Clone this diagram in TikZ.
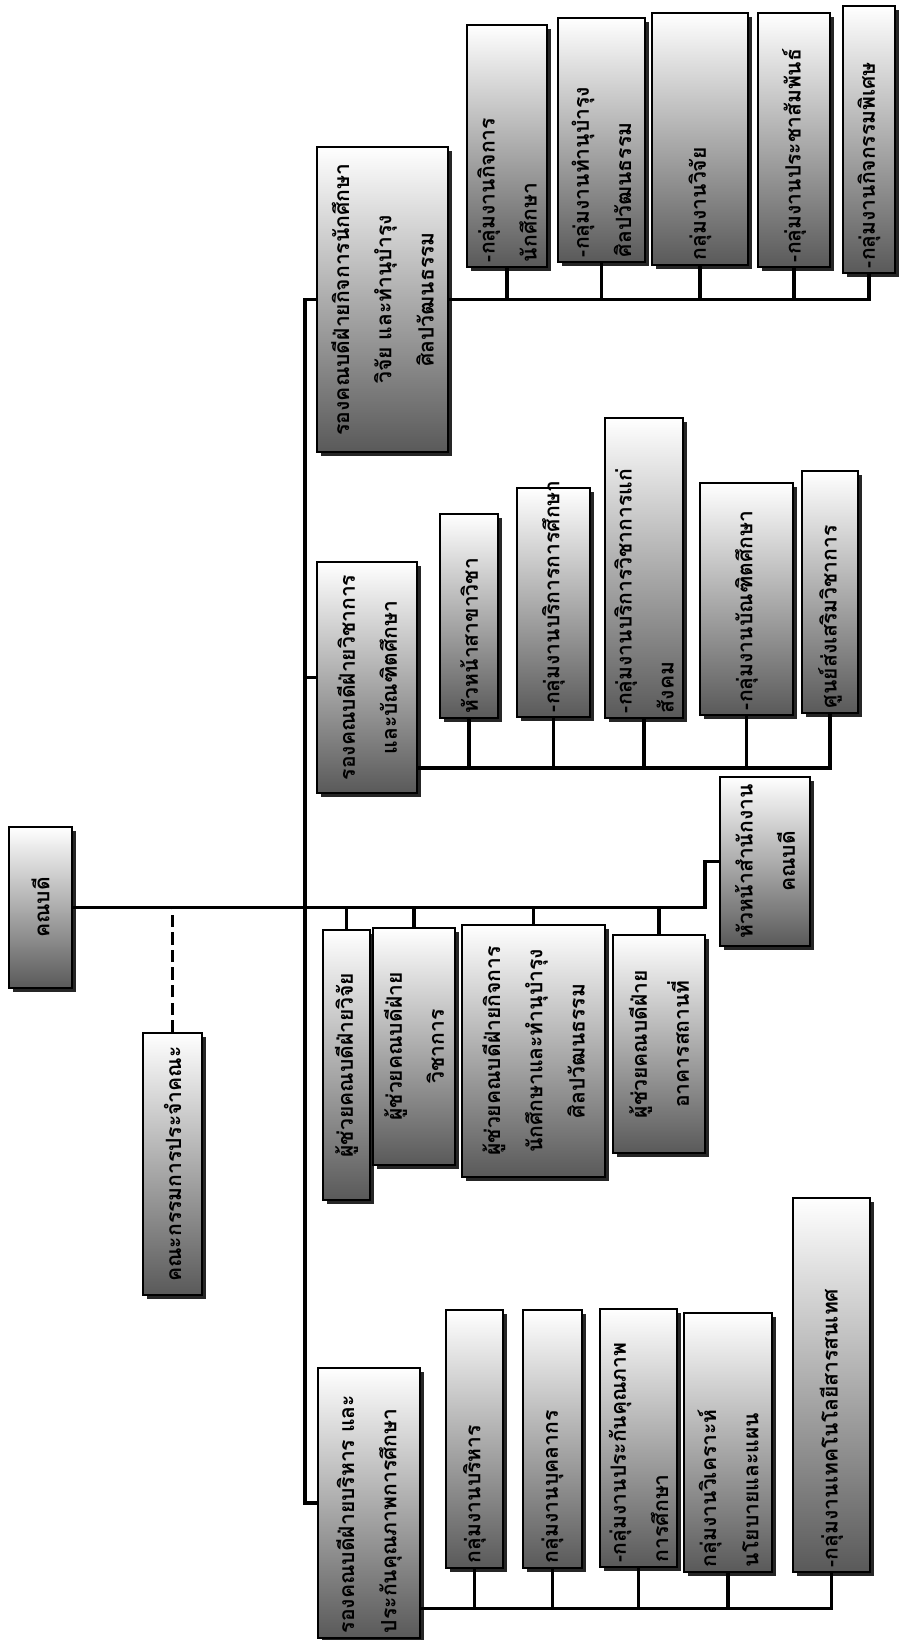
\documentclass[tikz,border=0pt]{standalone}
\usepackage{fontspec}
\newfontfamily\thaifont[Script=Thai]{Loma}
\usetikzlibrary{calc,shadows}
\exhyphenpenalty=10000

\begin{document}
\begin{tikzpicture}[x=0.02cm,y=-0.02cm,
  orgbox/.style 2 args={draw=black,line width=0.7pt,rotate=90,
    top color=white,bottom color=black!65,
    drop shadow={shadow xshift=2pt,shadow yshift=-2pt,fill=black!85,opacity=1},
    minimum width=#1*0.02cm,minimum height=#2*0.02cm,inner sep=1.5pt,
    font=\thaifont\bfseries\fontsize{12}{24}\selectfont,align=center},
  subbox/.style 2 args={orgbox={#1}{#2},align=left,text width=#1*0.02cm-0.2cm},
  link/.style={line width=1.9pt}]
\useasboundingbox (0,0) rectangle (899,1640);

% Dean and faculty board
\node[orgbox={161}{63}] (dean) at (40.5,907.5) {คณบดี};
\node[orgbox={262}{59}] (board) at (172.5,1164) {คณะกรรมการประจำคณะ};

% Vice dean: student affairs, research, arts and culture
\node[orgbox={305}{131}] (g4) at (382.5,299.5) {รองคณบดีฝ่ายกิจการนักศึกษา\\วิจัย และทำนุบำรุง\\ศิลปวัฒนธรรม};
\node[subbox={242}{80}] (c1) at (507,146) {-กลุ่มงานกิจการ\\นักศึกษา};
\node[subbox={244}{87}] (c2) at (601.5,140) {-กลุ่มงานทำนุบำรุง\\ศิลปวัฒนธรรม};
\node[subbox={252}{96}] (c3) at (700,139) {กลุ่มงานวิจัย};
\node[subbox={254}{72}] (c4) at (794,140) {-กลุ่มงานประชาสัมพันธ์};
\node[subbox={267}{52}] (c5) at (869,139.5) {-กลุ่มงานกิจกรรมพิเศษ};

% Vice dean: academic affairs and graduate studies
\node[orgbox={231}{100}] (g3) at (367,677.5) {รองคณบดีฝ่ายวิชาการ\\และบัณฑิตศึกษา};
\node[subbox={204}{58}] (ch1) at (469,616) {หัวหน้าสาขาวิชา};
\node[subbox={229}{73}] (ch2) at (553.5,602.5) {-กลุ่มงานบริการการศึกษา};
\node[subbox={300}{78}] (ch3) at (644,568) {-กลุ่มงานบริการวิชาการแก่\\สังคม};
\node[subbox={232}{93}] (ch4) at (746.5,599) {-กลุ่มงานบัณฑิตศึกษา};
\node[subbox={242}{56}] (ch5) at (830,592) {ศูนย์ส่งเสริมวิชาการ};

% Assistant deans and head of office
\node[orgbox={270}{47}] (a1) at (346.5,1065) {ผู้ช่วยคณบดีฝ่ายวิจัย};
\node[orgbox={237}{82}] (a2) at (414,1046.5) {ผู้ช่วยคณบดีฝ่าย\\วิชาการ};
\node[orgbox={252}{143}] (a3) at (533.5,1051) {ผู้ช่วยคณบดีฝ่ายกิจการ\\นักศึกษาและทำนุบำรุง\\ศิลปวัฒนธรรม};
\node[orgbox={218}{92}] (a4) at (659,1044) {ผู้ช่วยคณบดีฝ่าย\\อาคารสถานที่};
\node[orgbox={169}{90}] (hoff) at (765,861.5) {หัวหน้าสำนักงาน\\คณบดี};

% Vice dean: administration and quality assurance
\node[subbox={270}{102}] (g1) at (369,1503) {รองคณบดีฝ่ายบริหาร และ\\ประกันคุณภาพการศึกษา};
\node[subbox={258}{57}] (d1) at (474.5,1439) {กลุ่มงานบริหาร};
\node[subbox={258}{59}] (d2) at (552.5,1439) {กลุ่มงานบุคลากร};
\node[subbox={258}{77}] (d3) at (638.5,1438) {-กลุ่มงานประกันคุณภาพ\\การศึกษา};
\node[subbox={259}{88}] (d4) at (728,1442.5) {กลุ่มงานวิเคราะห์\\นโยบายและแผน};
\node[subbox={374}{77}] (d5) at (831.5,1385) {-กลุ่มงานเทคโนโลยีสารสนเทศ};

% main lines
\coordinate (sp) at (305,907.5);
\coordinate (jog) at (705,907.5);
\draw[link] (dean.south) -- (jog) |- (hoff.north);
\draw[link] (g4.north) -| (sp) |- (g1.north);
\draw[link] (g3.north) -- (g3.north -| sp);
\draw[link,dash pattern=on 7pt off 3pt] (board.east) -- (board.east |- dean);
\foreach \n in {a1,a2,a3,a4}
  \draw[link] (\n.east) -- (\n.east |- dean);

% buses to the groups
\draw[link] (g4.south) -| (c5.west);
\foreach \n in {c1,c2,c3,c4}
  \draw[link] (\n.west) -- (\n.west |- g4.south);
\coordinate (bus3) at ($(g3.south west)!0.11!(g3.south east)$);
\draw[link] (bus3) -| (ch5.west);
\foreach \n in {ch1,ch2,ch3,ch4}
  \draw[link] (\n.west) -- (\n.west |- bus3);
\coordinate (bus1) at ($(g1.south west)!0.11!(g1.south east)$);
\draw[link] (bus1) -| (d5.west);
\foreach \n in {d1,d2,d3,d4}
  \draw[link] (\n.west) -- (\n.west |- bus1);
\end{tikzpicture}
\end{document}
